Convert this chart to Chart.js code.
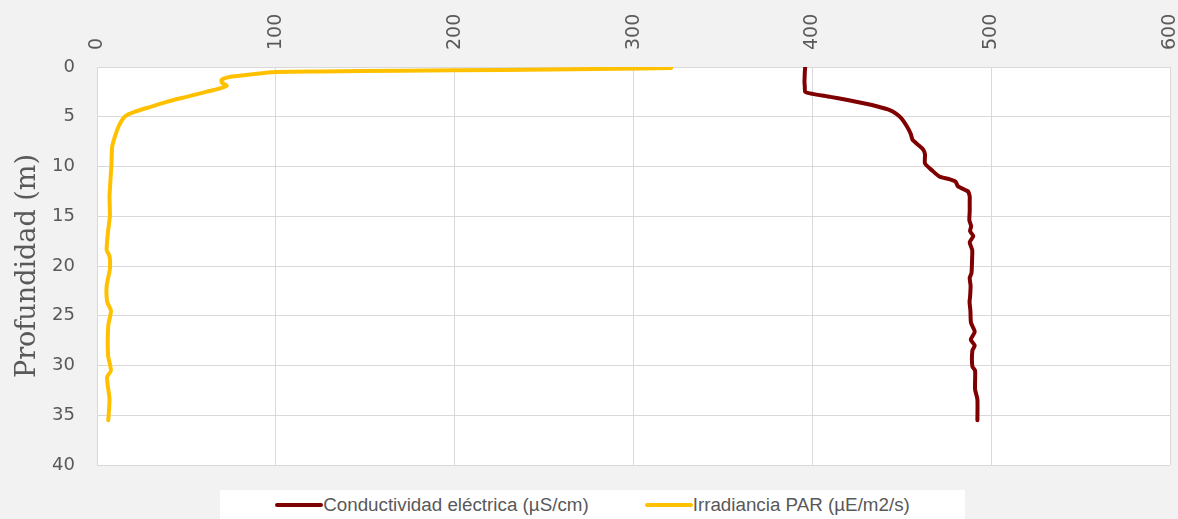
<!DOCTYPE html>
<html lang="es">
<head>
<meta charset="utf-8">
<title>Perfil de profundidad</title>
<script src="https://cdn.jsdelivr.net/npm/chart.js@4.4.1/dist/chart.umd.min.js"></script>
<style>
  html, body { margin: 0; padding: 0; background: #f2f2f2; }
  #wrap { position: relative; width: 1178px; height: 519px; }
  #legend {
    position: absolute; left: 220px; top: 490px; width: 745px; height: 29px;
    background: #ffffff; display: flex; justify-content: center; align-items: center; gap: 56px;
    font-family: "Liberation Sans", sans-serif; font-size: 18.8px; color: #595959;
  }
  #legend .item { display: flex; align-items: center; }
  #legend .swatch { width: 48px; height: 4px; border-radius: 2px; }
</style>
</head>
<body>
<div id="wrap">
  <canvas id="chart" width="1178" height="519"></canvas>
  <div id="legend"></div>
</div>
<script>
// Conductividad eléctrica: profundidad (m) y valor (µS/cm)
const condDepth = [0, 0.5, 1, 1.5, 2, 2.5, 2.7, 3.0, 3.3, 3.7, 4.0, 4.3, 4.7, 5.2, 6.0, 6.7, 7.3, 7.8, 8.3, 8.8, 9.7,
  10.4, 11.0, 11.3, 11.5, 12.0, 12.5, 13.0, 13.4, 14.5, 15.4, 16.0, 16.5, 17.0, 17.6, 18.4, 19.5, 20.7, 21.2, 22.0,
  23.1, 23.6, 24.5, 25.7, 26.6, 27.4, 28.0, 28.5, 30.1, 30.5, 32.4, 33.4, 35.5];
const condValues = [396, 395.8, 395.7, 395.6, 395.8, 396, 400, 410, 419, 430, 437, 443, 447, 450, 453, 455, 456, 459, 462, 463, 463,
  467, 471, 477, 480, 481.5, 487, 488, 488, 488, 487.8, 488.8, 488.2, 490, 488, 489.4, 489.3, 489, 488, 488.5,
  488.2, 487.9, 488.4, 488.7, 490.8, 488.6, 490.8, 489.5, 489.5, 491, 491, 492.3, 492.3];

// Irradiancia PAR: profundidad (m) y valor (µE/m2/s)
const parDepth = [0.1, 0.15, 0.25, 0.33, 0.37, 0.45, 0.5, 0.7, 1.0, 1.3, 1.6, 1.9, 2.2, 2.5, 3.0, 3.5, 4.0, 4.5, 4.8,
  5.2, 6.0, 7.0, 8.0, 10.0, 12.0, 13.0, 15.0, 16.5, 18.4, 19.0, 20.3, 22.0, 23.6, 24.5, 26.0, 29.0, 30.5, 31.2, 33.4, 35.5];
const parValues = [321, 304, 253, 200, 170, 125, 100, 88, 74, 69.6, 70, 72.5, 67.8, 61, 50, 39, 30, 21, 17,
  14.5, 12, 10, 8.5, 8, 7.3, 7, 7.2, 6.2, 5.4, 7, 7.2, 5.4, 5.7, 7.8, 6.3, 6.2, 7.8, 5.6, 7, 6.3];

// Ejes
const depthTicks = [0, 5, 10, 15, 20, 25, 30, 35, 40];
const valueTicks = [0, 100, 200, 300, 400, 500, 600];

const series = [
  { label: "Conductividad eléctrica (µS/cm)", depth: condDepth, values: condValues, color: "#7f0000" },
  { label: "Irradiancia PAR (µE/m2/s)", depth: parDepth, values: parValues, color: "#ffc000" },
];

const tickColor = "#595959";
const gridColor = "#d9d9d9";

// fondo blanco del área de trazado
const plotBackground = {
  id: "plotBackground",
  beforeDraw(chart) {
    const { ctx, chartArea: a } = chart;
    ctx.save();
    ctx.fillStyle = "#ffffff";
    ctx.fillRect(a.left, a.top, a.right - a.left, a.bottom - a.top);
    ctx.restore();
  },
};

new Chart(document.getElementById("chart"), {
  type: "scatter",
  data: {
    datasets: series.map((s) => ({
      label: s.label,
      data: s.values.map((v, i) => ({ x: v, y: s.depth[i] })),
      showLine: true,
      borderColor: s.color,
      backgroundColor: s.color,
      borderWidth: 4,
      pointRadius: 0,
      tension: 0.2,
      borderCapStyle: "round",
      borderJoinStyle: "round",
    })),
  },
  options: {
    responsive: false,
    animation: false,
    layout: { padding: { top: 0, right: 8, bottom: 54, left: 0 } },
    plugins: {
      legend: { display: false },
      tooltip: { enabled: false },
    },
    scales: {
      x: {
        type: "linear",
        position: "top",
        min: valueTicks[0],
        max: valueTicks[valueTicks.length - 1],
        afterBuildTicks: (scale) => { scale.ticks = valueTicks.map((v) => ({ value: v })); },
        afterFit: (scale) => {
          scale.height = 67;
          scale.paddingLeft = 0;
          scale.paddingRight = 0;
        },
        border: { color: gridColor },
        grid: { color: gridColor, drawTicks: false },
        ticks: {
          autoSkip: false,
          minRotation: 90,
          maxRotation: 90,
          padding: 17,
          labelOffset: 23,
          color: tickColor,
          font: { family: "DejaVu Sans", size: 19 },
        },
      },
      y: {
        type: "linear",
        reverse: true,
        min: depthTicks[0],
        max: depthTicks[depthTicks.length - 1],
        afterBuildTicks: (scale) => { scale.ticks = depthTicks.map((v) => ({ value: v })); },
        afterFit: (scale) => { scale.width = 97; },
        border: { color: gridColor },
        grid: { color: gridColor, drawTicks: false },
        ticks: {
          padding: 22,
          color: tickColor,
          font: { family: "DejaVu Sans", size: 18 },
        },
        title: {
          display: true,
          text: "Profundidad (m)",
          color: tickColor,
          padding: { top: 12, bottom: 0 },
          font: { family: "DejaVu Serif", size: 27 },
        },
      },
    },
  },
  plugins: [plotBackground],
});

// leyenda
const legendEl = document.getElementById("legend");
series.forEach((s) => {
  const item = document.createElement("div");
  item.className = "item";
  const sw = document.createElement("span");
  sw.className = "swatch";
  sw.style.background = s.color;
  const txt = document.createElement("span");
  txt.textContent = s.label;
  item.appendChild(sw);
  item.appendChild(txt);
  legendEl.appendChild(item);
});
</script>
</body>
</html>
